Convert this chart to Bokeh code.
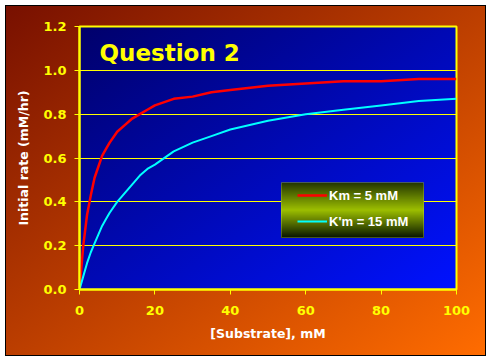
from bokeh.plotting import figure
from bokeh.models import (Range1d, FixedTicker, PrintfTickFormatter, Legend, LegendItem,
                          BoxAnnotation, Label)
from bokeh.embed import file_html
from bokeh.resources import INLINE

# ---- data ----
substrate = [0, 1, 2, 3, 4, 5, 6, 7, 8, 10, 12, 14, 16, 18, 20, 25, 30, 35, 40, 50, 60, 70, 80, 90, 100]
rate_km5 = [0.0, 0.20, 0.34, 0.43, 0.51, 0.56, 0.61, 0.64, 0.67, 0.72, 0.75, 0.78, 0.80, 0.82, 0.84,
            0.87, 0.88, 0.90, 0.91, 0.93, 0.94, 0.95, 0.95, 0.96, 0.96]
rate_km15 = [0.0, 0.06, 0.12, 0.17, 0.21, 0.25, 0.29, 0.32, 0.35, 0.40, 0.44, 0.48, 0.52, 0.55, 0.57,
             0.63, 0.67, 0.70, 0.73, 0.77, 0.80, 0.82, 0.84, 0.86, 0.87]
series_labels = ["Km = 5 mM", "K'm = 15 mM"]
x_ticks = [0, 20, 40, 60, 80, 100]
y_ticks = [0.0, 0.2, 0.4, 0.6, 0.8, 1.0, 1.2]
title_text = "Question 2"
x_label = "[Substrate], mM"
y_label = "Initial rate (mM/hr)"

# ---- layout / style ----
W, H = 492, 362
FL, FT, FR, FB = 79, 26, 456, 289  # frame edges in page pixels

bg = ("linear-gradient(to bottom right, #00006a, #0012ff) %dpx %dpx / %dpx %dpx no-repeat, "
      "linear-gradient(to bottom right, #781000, #ff6c00) 6px 6px / 479px 349px no-repeat, "
      "linear-gradient(#000000, #000000) 5px 5px / 481px 351px no-repeat, #ffffff"
      % (FL, FT, FR - FL, FB - FT))

p = figure(width=W, height=H, output_backend="svg", toolbar_location=None,
           x_range=Range1d(0, 100), y_range=Range1d(0, 1.2),
           min_border_left=FL, min_border_right=W - FR, min_border_top=FT, min_border_bottom=H - FB,
           background_fill_color=None, border_fill_color=None,
           outline_line_color="#ffff00", outline_line_width=2,
           styles={"background": bg})

YEL = "#ffff00"
for ax in (p.xaxis[0], p.yaxis[0]):
    ax.axis_line_color = YEL
    ax.axis_line_width = 2
    ax.major_tick_line_color = YEL
    ax.major_tick_out = 5
    ax.major_tick_in = 0
    ax.minor_tick_line_color = None
    ax.major_label_text_color = YEL
    ax.major_label_text_font = "DejaVu Sans"
    ax.major_label_text_font_style = "bold"
    ax.major_label_text_font_size = "13px"
    ax.axis_label_text_color = "#ffffff"
    ax.axis_label_text_font = "DejaVu Sans"
    ax.axis_label_text_font_style = "bold"
    ax.axis_label_text_font_size = "12.5px"

p.xaxis[0].ticker = FixedTicker(ticks=x_ticks)
p.yaxis[0].ticker = FixedTicker(ticks=y_ticks)
p.yaxis[0].formatter = PrintfTickFormatter(format="%.1f")
p.xaxis[0].axis_label = x_label
p.yaxis[0].axis_label = y_label
p.yaxis[0].major_label_standoff = 8
p.xaxis[0].major_label_standoff = 11
p.yaxis[0].axis_label_standoff = 9
p.xaxis[0].axis_label_standoff = 8

p.xgrid.grid_line_color = None
p.ygrid.grid_line_color = YEL
p.ygrid.grid_line_width = 1

r1 = p.line(substrate, rate_km5, line_color="#ff0000", line_width=2.5)
r2 = p.line(substrate, rate_km15, line_color="#00ffff", line_width=2)

p.add_layout(Label(x=5.3, y=1.08, text=title_text, text_font="DejaVu Sans", text_font_style="bold",
                   text_font_size="23px", text_color=YEL, text_baseline="alphabetic"))

# legend box with vertical gradient (overlapping bands), frame-relative screen units
lx0, lx1, ly0, ly1 = 202, 344, 52, 107
stops = [(0.0, (0x22, 0x36, 0x00)), (0.5, (0x9c, 0xbe, 0x00)), (1.0, (0x08, 0x16, 0x00))]

def grad(t):
    for (t0, c0), (t1, c1) in zip(stops[:-1], stops[1:]):
        if t0 <= t <= t1:
            f = (t - t0) / (t1 - t0)
            return "#%02x%02x%02x" % tuple(int(round(a + (b - a) * f)) for a, b in zip(c0, c1))
    return "#%02x%02x%02x" % stops[-1][1]

n = ly1 - ly0
for i in range(n):
    top = ly1 - i
    p.add_layout(BoxAnnotation(left=lx0, right=lx1, top=top, bottom=ly0,
                               left_units="screen", right_units="screen",
                               top_units="screen", bottom_units="screen",
                               fill_color=grad((i + 0.5) / n), fill_alpha=1, line_color=None))
p.add_layout(BoxAnnotation(left=lx0, right=lx1, top=ly1, bottom=ly0,
                           left_units="screen", right_units="screen",
                           top_units="screen", bottom_units="screen",
                           fill_alpha=0, line_color="#c8e060", line_width=1))

legend = Legend(items=[LegendItem(label=series_labels[0], renderers=[r1]),
                       LegendItem(label=series_labels[1], renderers=[r2])],
                location=(214, 55), padding=4, spacing=8, glyph_width=30, glyph_height=18,
                label_height=18, label_standoff=2, margin=0,
                label_text_font="Liberation Sans", label_text_font_style="bold",
                label_text_font_size="13px", label_text_color="#ffffff",
                background_fill_alpha=0, border_line_alpha=0)
p.add_layout(legend)

open("out.html", "w").write(file_html(p, INLINE))
